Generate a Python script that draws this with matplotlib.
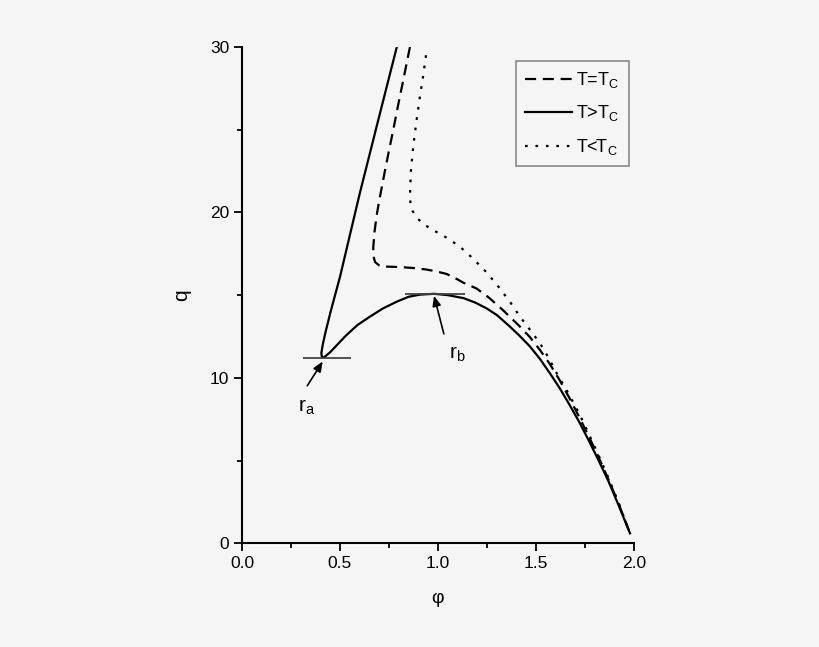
import matplotlib
matplotlib.use("Agg")
import matplotlib.pyplot as plt
from matplotlib.ticker import MultipleLocator

plt.rcParams['font.family'] = ['Liberation Sans', 'DejaVu Sans']
plt.rcParams['mathtext.fontset'] = 'custom'
plt.rcParams['mathtext.rm'] = 'Liberation Sans'
plt.rcParams['mathtext.it'] = 'Liberation Sans'

# T > Tc (solido)
phi_hi = [0.79, 0.70, 0.60, 0.50, 0.45, 0.425, 0.412, 0.405, 0.408, 0.42, 0.45, 0.49, 0.53,
          0.59, 0.653, 0.72, 0.789, 0.85, 0.908, 0.98, 1.05, 1.13, 1.19, 1.248, 1.30,
          1.367, 1.42, 1.469, 1.52, 1.571, 1.62, 1.67, 1.72, 1.77, 1.82, 1.87, 1.92, 1.98]
q_hi = [30.0, 25.8, 21.1, 16.1, 13.9, 12.7, 12.0, 11.5, 11.25, 11.25, 11.55, 12.05, 12.55,
        13.2, 13.7, 14.2, 14.6, 14.9, 15.03, 15.08, 15.0, 14.82, 14.55, 14.2, 13.8,
        13.1, 12.5, 11.9, 11.15, 10.28, 9.4, 8.4, 7.35, 6.2, 5.0, 3.75, 2.35, 0.6]

# T = Tc (discontinua)
phi_c = [0.857, 0.84, 0.823, 0.797, 0.772, 0.746, 0.721, 0.70, 0.687, 0.676, 0.670, 0.670,
         0.679, 0.70, 0.721, 0.80, 0.874, 0.94, 0.993, 1.044, 1.10, 1.13, 1.197, 1.26,
         1.33, 1.418, 1.47, 1.52, 1.57, 1.62, 1.67, 1.72, 1.77, 1.82, 1.87, 1.92, 1.98]
q_c = [30.0, 29.0, 28.0, 26.5, 25.0, 23.5, 22.0, 20.7, 19.8, 18.8, 17.9, 17.4,
       17.0, 16.8, 16.73, 16.7, 16.64, 16.55, 16.43, 16.28, 15.95, 15.75, 15.4, 14.85,
       14.11, 13.1, 12.45, 11.69, 10.85, 9.88, 8.8, 7.65, 6.45, 5.2, 3.85, 2.45, 0.6]

# T < Tc (punteada)
phi_lo = [0.939, 0.925, 0.908, 0.89, 0.874, 0.862, 0.857, 0.860, 0.870, 0.89, 0.925, 0.98,
          1.04, 1.11, 1.18, 1.25, 1.316, 1.37, 1.418, 1.47, 1.52, 1.565, 1.605, 1.665,
          1.72, 1.77, 1.82, 1.87, 1.92, 1.98]
q_lo = [29.5, 28.3, 27.0, 25.5, 24.0, 22.5, 21.0, 20.5, 20.1, 19.7, 19.3, 18.9,
        18.5, 17.95, 17.2, 16.35, 15.4, 14.55, 13.71, 12.9, 12.1, 11.2, 10.3, 9.07,
        7.85, 6.6, 5.3, 3.95, 2.5, 0.6]

# tangentes horizontales en r_a y r_b
ra_q, ra_span = 11.21, (0.309, 0.556)
rb_q, rb_span = 15.08, (0.832, 1.138)

bg = '#f5f5f5'
fig = plt.figure(figsize=(8.2, 6.47), dpi=100, facecolor=bg)
ax = fig.add_axes([0.2951, 0.1603, 0.478, 0.7671], facecolor=bg)

ax.plot(phi_c, q_c, color='black', lw=1.6, dashes=(5, 3), label=r'T=T$_\mathrm{C}$')
ax.plot(phi_hi, q_hi, color='black', lw=1.6, label=r'T>T$_\mathrm{C}$')
ax.plot(phi_lo, q_lo, color='black', lw=1.6, dashes=(1.2, 3.5), label=r'T<T$_\mathrm{C}$')

ax.hlines(ra_q, *ra_span, color='#444444', lw=1.3)
ax.hlines(rb_q, *rb_span, color='#444444', lw=1.3)

arrow = dict(arrowstyle='-|>,head_length=0.6,head_width=0.25', color='black', lw=1.2,
             shrinkA=0, shrinkB=0)
ax.annotate('', xy=(0.412, 10.99), xytext=(0.333, 9.52), arrowprops=arrow)
ax.annotate('', xy=(0.98, 14.96), xytext=(1.03, 12.66), arrowprops=arrow)
ax.text(0.285, 8.2, r'r$_\mathrm{a}$', fontsize=15, ha='left', va='center')
ax.text(1.055, 11.4, r'r$_\mathrm{b}$', fontsize=15, ha='left', va='center')

ax.set_xlim(0, 2.0)
ax.set_ylim(0, 30)
ax.xaxis.set_major_locator(MultipleLocator(0.5))
ax.xaxis.set_minor_locator(MultipleLocator(0.25))
ax.yaxis.set_major_locator(MultipleLocator(10))
ax.yaxis.set_minor_locator(MultipleLocator(5))
ax.xaxis.set_major_formatter(plt.FuncFormatter(lambda v, p: f"{v:.1f}"))
ax.yaxis.set_major_formatter(plt.FuncFormatter(lambda v, p: f"{v:.0f}"))

for s in ['top', 'right']:
    ax.spines[s].set_visible(False)
for s in ['left', 'bottom']:
    ax.spines[s].set_linewidth(1.5)
ax.tick_params(which='major', direction='out', length=6, width=1.3, labelsize=12.5, pad=3)
ax.tick_params(which='minor', direction='out', length=3.5, width=1.3)

ax.set_xlabel('φ', fontsize=14, labelpad=14)
ax.set_ylabel('q', fontsize=15, labelpad=14)

leg = ax.legend(loc='upper left', bbox_to_anchor=(0.699, 0.972), fontsize=13,
                handlelength=2.6, labelspacing=0.75, borderpad=0.5, handletextpad=0.25,
                fancybox=False, framealpha=1, facecolor=bg, edgecolor='#888888',
                borderaxespad=0)
leg.get_frame().set_linewidth(1.2)

fig.savefig('out.png', dpi=100, facecolor=bg)
